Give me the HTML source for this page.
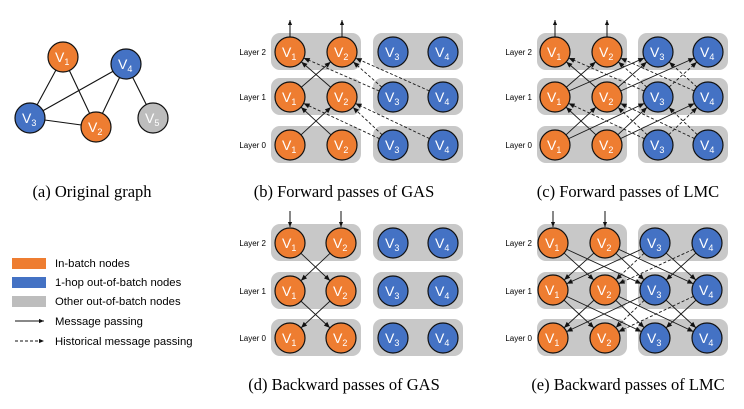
<!DOCTYPE html>
<html><head><meta charset="utf-8"><style>
html,body{margin:0;padding:0;background:#fff}
svg{display:block}
.n text{font-family:"Liberation Sans",sans-serif;fill:#fff;font-size:14px}
.lt{font-family:"Liberation Sans",sans-serif;font-size:8px;fill:#000;text-anchor:end}
.cap{font-family:"Liberation Serif",serif;font-size:16.5px;fill:#000;text-anchor:middle}
.lg{font-family:"Liberation Sans",sans-serif;font-size:11.3px;fill:#000}
.s{stroke:#1a1a1a;stroke-width:0.9;fill:none;marker-end:url(#a)}
.d{stroke:#1a1a1a;stroke-width:0.9;fill:none;stroke-dasharray:3,2;marker-end:url(#a)}
.bx{fill:#c8c8c8}
.o{fill:#ee7d31;stroke:#111;stroke-width:1.2}
.b{fill:#4472c4;stroke:#111;stroke-width:1.2}
.g{fill:#bdbdbd;stroke:#111;stroke-width:1.2}
</style></head><body>
<svg width="744" height="409" viewBox="0 0 744 409" xmlns="http://www.w3.org/2000/svg">
<defs>
<marker id="a" markerUnits="userSpaceOnUse" markerWidth="40" markerHeight="10" viewBox="-30 -5 40 10" refX="21" refY="0" orient="auto"><path d="M0,-2.5 L6,0 L0,2.5z" fill="#111"/></marker>
<marker id="a0" markerUnits="userSpaceOnUse" markerWidth="10" markerHeight="10" viewBox="-5 -5 10 10" refX="0" refY="0" orient="auto"><path d="M-6,-2.5 L0,0 L-6,2.5z" fill="#111"/></marker>
</defs>

<!-- (a) original graph -->
<g stroke="#111" stroke-width="1.1">
<line x1="63" y1="57" x2="30" y2="118"/><line x1="63" y1="57" x2="96" y2="127"/>
<line x1="126" y1="64" x2="30" y2="118"/><line x1="30" y1="118" x2="96" y2="127"/>
<line x1="126" y1="64" x2="96" y2="127"/><line x1="126" y1="64" x2="153" y2="118"/>
</g>
<g class="n">
<circle class="o" cx="63" cy="57" r="15"/><text x="55" y="62">V<tspan font-size="9" dy="3">1</tspan></text>
<circle class="b" cx="126" cy="64" r="15"/><text x="118" y="69">V<tspan font-size="9" dy="3">4</tspan></text>
<circle class="b" cx="30" cy="118" r="15"/><text x="22" y="123">V<tspan font-size="9" dy="3">3</tspan></text>
<circle class="o" cx="96" cy="127" r="15"/><text x="88" y="132">V<tspan font-size="9" dy="3">2</tspan></text>
<circle class="g" cx="153" cy="118" r="15"/><text x="145" y="123">V<tspan font-size="9" dy="3">5</tspan></text>
</g>
<text class="cap" x="92" y="197">(a) Original graph</text>

<!-- legend -->
<rect x="12" y="258" width="34" height="11" fill="#ee7d31"/>
<rect x="12" y="277" width="34" height="11" fill="#4472c4"/>
<rect x="12" y="296" width="34" height="11" fill="#bdbdbd"/>
<line x1="15" y1="321" x2="44" y2="321" stroke="#111" marker-end="url(#a0)"/>
<line x1="15" y1="341" x2="44" y2="341" stroke="#111" stroke-dasharray="3,2" marker-end="url(#a0)"/>
<text class="lg" x="55" y="267">In-batch nodes</text>
<text class="lg" x="55" y="286">1-hop out-of-batch nodes</text>
<text class="lg" x="55" y="305">Other out-of-batch nodes</text>
<text class="lg" x="55" y="325">Message passing</text>
<text class="lg" x="55" y="345">Historical message passing</text>

<g class="bx">
<rect x="271" y="33" width="90" height="37" rx="9"/><rect x="373" y="33" width="90" height="37" rx="9"/>
<rect x="271" y="78" width="90" height="37" rx="9"/><rect x="373" y="78" width="90" height="37" rx="9"/>
<rect x="271" y="126" width="90" height="37" rx="9"/><rect x="373" y="126" width="90" height="37" rx="9"/>
<rect x="537" y="33" width="90" height="37" rx="9"/><rect x="638" y="33" width="90" height="37" rx="9"/>
<rect x="537" y="78" width="90" height="37" rx="9"/><rect x="638" y="78" width="90" height="37" rx="9"/>
<rect x="537" y="126" width="90" height="37" rx="9"/><rect x="638" y="126" width="90" height="37" rx="9"/>
<rect x="271" y="224" width="90" height="37" rx="9"/><rect x="373" y="224" width="90" height="37" rx="9"/>
<rect x="271" y="272" width="90" height="37" rx="9"/><rect x="373" y="272" width="90" height="37" rx="9"/>
<rect x="271" y="319" width="90" height="37" rx="9"/><rect x="373" y="319" width="90" height="37" rx="9"/>
<rect x="537" y="224" width="90" height="37" rx="9"/><rect x="638" y="224" width="90" height="37" rx="9"/>
<rect x="537" y="272" width="90" height="37" rx="9"/><rect x="638" y="272" width="90" height="37" rx="9"/>
<rect x="537" y="319" width="90" height="37" rx="9"/><rect x="638" y="319" width="90" height="37" rx="9"/>
</g>

<!-- edges (b) -->
<line class="s" x1="290" y1="145" x2="342" y2="97"/><line class="s" x1="342" y1="145" x2="290" y2="97"/>
<line class="d" x1="393" y1="145" x2="290" y2="97"/><line class="d" x1="393" y1="145" x2="342" y2="97"/><line class="d" x1="443" y1="145" x2="342" y2="97"/>
<line class="s" x1="290" y1="97" x2="342" y2="52"/><line class="s" x1="342" y1="97" x2="290" y2="52"/>
<line class="d" x1="393" y1="97" x2="290" y2="52"/><line class="d" x1="393" y1="97" x2="342" y2="52"/><line class="d" x1="443" y1="97" x2="342" y2="52"/>
<line x1="290" y1="37" x2="290" y2="20" stroke="#111" marker-end="url(#a0)"/>
<line x1="342" y1="37" x2="342" y2="20" stroke="#111" marker-end="url(#a0)"/>

<!-- edges (c) -->
<line class="s" x1="555" y1="145" x2="607" y2="97"/><line class="s" x1="555" y1="145" x2="658" y2="97"/>
<line class="s" x1="607" y1="145" x2="555" y2="97"/><line class="s" x1="607" y1="145" x2="658" y2="97"/><line class="s" x1="607" y1="145" x2="708" y2="97"/>
<line class="d" x1="658" y1="145" x2="555" y2="97"/><line class="d" x1="658" y1="145" x2="607" y2="97"/><line class="d" x1="658" y1="145" x2="708" y2="97"/>
<line class="d" x1="708" y1="145" x2="607" y2="97"/><line class="d" x1="708" y1="145" x2="658" y2="97"/>
<line class="s" x1="555" y1="97" x2="607" y2="52"/><line class="s" x1="555" y1="97" x2="658" y2="52"/>
<line class="s" x1="607" y1="97" x2="555" y2="52"/><line class="s" x1="607" y1="97" x2="658" y2="52"/><line class="s" x1="607" y1="97" x2="708" y2="52"/>
<line class="d" x1="658" y1="97" x2="555" y2="52"/><line class="d" x1="658" y1="97" x2="607" y2="52"/><line class="d" x1="658" y1="97" x2="708" y2="52"/>
<line class="d" x1="708" y1="97" x2="607" y2="52"/><line class="d" x1="708" y1="97" x2="658" y2="52"/>
<line x1="555" y1="37" x2="555" y2="20" stroke="#111" marker-end="url(#a0)"/>
<line x1="607" y1="37" x2="607" y2="20" stroke="#111" marker-end="url(#a0)"/>

<!-- edges (d) -->
<line class="s" x1="290" y1="243" x2="341" y2="291"/><line class="s" x1="341" y1="243" x2="290" y2="291"/>
<line class="s" x1="290" y1="291" x2="341" y2="338"/><line class="s" x1="341" y1="291" x2="290" y2="338"/>
<line x1="290" y1="211" x2="290" y2="227" stroke="#111" marker-end="url(#a0)"/>
<line x1="341" y1="211" x2="341" y2="227" stroke="#111" marker-end="url(#a0)"/>

<!-- edges (e) -->
<line class="s" x1="553" y1="243" x2="605" y2="290"/><line class="s" x1="553" y1="243" x2="655" y2="290"/>
<line class="s" x1="605" y1="243" x2="553" y2="290"/><line class="s" x1="605" y1="243" x2="655" y2="290"/><line class="s" x1="605" y1="243" x2="707" y2="290"/>
<line class="s" x1="655" y1="243" x2="553" y2="290"/><line class="d" x1="655" y1="243" x2="605" y2="290"/><line class="s" x1="655" y1="243" x2="707" y2="290"/>
<line class="d" x1="707" y1="243" x2="605" y2="290"/><line class="s" x1="707" y1="243" x2="655" y2="290"/>
<line class="s" x1="553" y1="290" x2="605" y2="338"/><line class="s" x1="553" y1="290" x2="655" y2="338"/>
<line class="s" x1="605" y1="290" x2="553" y2="338"/><line class="s" x1="605" y1="290" x2="655" y2="338"/><line class="s" x1="605" y1="290" x2="707" y2="338"/>
<line class="s" x1="655" y1="290" x2="553" y2="338"/><line class="d" x1="655" y1="290" x2="605" y2="338"/><line class="s" x1="655" y1="290" x2="707" y2="338"/>
<line class="d" x1="707" y1="290" x2="605" y2="338"/><line class="s" x1="707" y1="290" x2="655" y2="338"/>
<line x1="553" y1="211" x2="553" y2="227" stroke="#111" marker-end="url(#a0)"/>
<line x1="605" y1="211" x2="605" y2="227" stroke="#111" marker-end="url(#a0)"/>

<text class="lt" x="266" y="55">Layer 2</text><text class="lt" x="266" y="100">Layer 1</text><text class="lt" x="266" y="148">Layer 0</text>
<text class="lt" x="532" y="55">Layer 2</text><text class="lt" x="532" y="100">Layer 1</text><text class="lt" x="532" y="148">Layer 0</text>
<text class="lt" x="266" y="246">Layer 2</text><text class="lt" x="266" y="294">Layer 1</text><text class="lt" x="266" y="341">Layer 0</text>
<text class="lt" x="532" y="246">Layer 2</text><text class="lt" x="532" y="294">Layer 1</text><text class="lt" x="532" y="341">Layer 0</text>

<g class="n">
<circle class="o" cx="290" cy="52" r="15"/><text x="282" y="57">V<tspan font-size="9" dy="3">1</tspan></text>
<circle class="o" cx="342" cy="52" r="15"/><text x="334" y="57">V<tspan font-size="9" dy="3">2</tspan></text>
<circle class="b" cx="393" cy="52" r="15"/><text x="385" y="57">V<tspan font-size="9" dy="3">3</tspan></text>
<circle class="b" cx="443" cy="52" r="15"/><text x="435" y="57">V<tspan font-size="9" dy="3">4</tspan></text>
<circle class="o" cx="290" cy="97" r="15"/><text x="282" y="102">V<tspan font-size="9" dy="3">1</tspan></text>
<circle class="o" cx="342" cy="97" r="15"/><text x="334" y="102">V<tspan font-size="9" dy="3">2</tspan></text>
<circle class="b" cx="393" cy="97" r="15"/><text x="385" y="102">V<tspan font-size="9" dy="3">3</tspan></text>
<circle class="b" cx="443" cy="97" r="15"/><text x="435" y="102">V<tspan font-size="9" dy="3">4</tspan></text>
<circle class="o" cx="290" cy="145" r="15"/><text x="282" y="150">V<tspan font-size="9" dy="3">1</tspan></text>
<circle class="o" cx="342" cy="145" r="15"/><text x="334" y="150">V<tspan font-size="9" dy="3">2</tspan></text>
<circle class="b" cx="393" cy="145" r="15"/><text x="385" y="150">V<tspan font-size="9" dy="3">3</tspan></text>
<circle class="b" cx="443" cy="145" r="15"/><text x="435" y="150">V<tspan font-size="9" dy="3">4</tspan></text>
</g>
<g class="n">
<circle class="o" cx="555" cy="52" r="15"/><text x="547" y="57">V<tspan font-size="9" dy="3">1</tspan></text>
<circle class="o" cx="607" cy="52" r="15"/><text x="599" y="57">V<tspan font-size="9" dy="3">2</tspan></text>
<circle class="b" cx="658" cy="52" r="15"/><text x="650" y="57">V<tspan font-size="9" dy="3">3</tspan></text>
<circle class="b" cx="708" cy="52" r="15"/><text x="700" y="57">V<tspan font-size="9" dy="3">4</tspan></text>
<circle class="o" cx="555" cy="97" r="15"/><text x="547" y="102">V<tspan font-size="9" dy="3">1</tspan></text>
<circle class="o" cx="607" cy="97" r="15"/><text x="599" y="102">V<tspan font-size="9" dy="3">2</tspan></text>
<circle class="b" cx="658" cy="97" r="15"/><text x="650" y="102">V<tspan font-size="9" dy="3">3</tspan></text>
<circle class="b" cx="708" cy="97" r="15"/><text x="700" y="102">V<tspan font-size="9" dy="3">4</tspan></text>
<circle class="o" cx="555" cy="145" r="15"/><text x="547" y="150">V<tspan font-size="9" dy="3">1</tspan></text>
<circle class="o" cx="607" cy="145" r="15"/><text x="599" y="150">V<tspan font-size="9" dy="3">2</tspan></text>
<circle class="b" cx="658" cy="145" r="15"/><text x="650" y="150">V<tspan font-size="9" dy="3">3</tspan></text>
<circle class="b" cx="708" cy="145" r="15"/><text x="700" y="150">V<tspan font-size="9" dy="3">4</tspan></text>
</g>
<g class="n">
<circle class="o" cx="290" cy="243" r="15"/><text x="282" y="248">V<tspan font-size="9" dy="3">1</tspan></text>
<circle class="o" cx="341" cy="243" r="15"/><text x="333" y="248">V<tspan font-size="9" dy="3">2</tspan></text>
<circle class="b" cx="393" cy="243" r="15"/><text x="385" y="248">V<tspan font-size="9" dy="3">3</tspan></text>
<circle class="b" cx="443" cy="243" r="15"/><text x="435" y="248">V<tspan font-size="9" dy="3">4</tspan></text>
<circle class="o" cx="290" cy="291" r="15"/><text x="282" y="296">V<tspan font-size="9" dy="3">1</tspan></text>
<circle class="o" cx="341" cy="291" r="15"/><text x="333" y="296">V<tspan font-size="9" dy="3">2</tspan></text>
<circle class="b" cx="393" cy="291" r="15"/><text x="385" y="296">V<tspan font-size="9" dy="3">3</tspan></text>
<circle class="b" cx="443" cy="291" r="15"/><text x="435" y="296">V<tspan font-size="9" dy="3">4</tspan></text>
<circle class="o" cx="290" cy="338" r="15"/><text x="282" y="343">V<tspan font-size="9" dy="3">1</tspan></text>
<circle class="o" cx="341" cy="338" r="15"/><text x="333" y="343">V<tspan font-size="9" dy="3">2</tspan></text>
<circle class="b" cx="393" cy="338" r="15"/><text x="385" y="343">V<tspan font-size="9" dy="3">3</tspan></text>
<circle class="b" cx="443" cy="338" r="15"/><text x="435" y="343">V<tspan font-size="9" dy="3">4</tspan></text>
</g>
<g class="n">
<circle class="o" cx="553" cy="243" r="15"/><text x="545" y="248">V<tspan font-size="9" dy="3">1</tspan></text>
<circle class="o" cx="605" cy="243" r="15"/><text x="597" y="248">V<tspan font-size="9" dy="3">2</tspan></text>
<circle class="b" cx="655" cy="243" r="15"/><text x="647" y="248">V<tspan font-size="9" dy="3">3</tspan></text>
<circle class="b" cx="707" cy="243" r="15"/><text x="699" y="248">V<tspan font-size="9" dy="3">4</tspan></text>
<circle class="o" cx="553" cy="290" r="15"/><text x="545" y="295">V<tspan font-size="9" dy="3">1</tspan></text>
<circle class="o" cx="605" cy="290" r="15"/><text x="597" y="295">V<tspan font-size="9" dy="3">2</tspan></text>
<circle class="b" cx="655" cy="290" r="15"/><text x="647" y="295">V<tspan font-size="9" dy="3">3</tspan></text>
<circle class="b" cx="707" cy="290" r="15"/><text x="699" y="295">V<tspan font-size="9" dy="3">4</tspan></text>
<circle class="o" cx="553" cy="338" r="15"/><text x="545" y="343">V<tspan font-size="9" dy="3">1</tspan></text>
<circle class="o" cx="605" cy="338" r="15"/><text x="597" y="343">V<tspan font-size="9" dy="3">2</tspan></text>
<circle class="b" cx="655" cy="338" r="15"/><text x="647" y="343">V<tspan font-size="9" dy="3">3</tspan></text>
<circle class="b" cx="707" cy="338" r="15"/><text x="699" y="343">V<tspan font-size="9" dy="3">4</tspan></text>
</g>

<text class="cap" x="344" y="197">(b) Forward passes of GAS</text>
<text class="cap" x="628" y="197">(c) Forward passes of LMC</text>
<text class="cap" x="344" y="390">(d) Backward passes of GAS</text>
<text class="cap" x="628" y="390">(e) Backward passes of LMC</text>
</svg>
</body></html>
